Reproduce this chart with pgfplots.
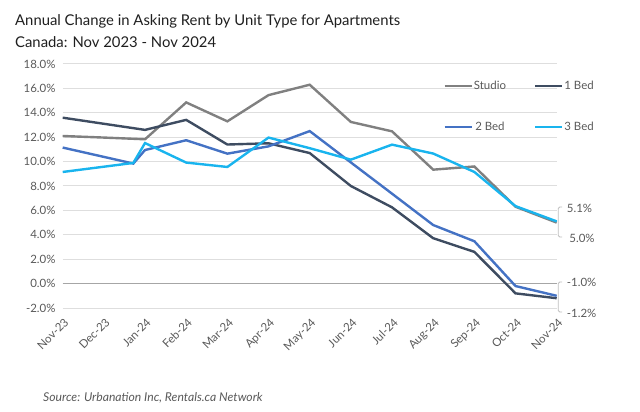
\documentclass[border=0pt]{standalone}
\usepackage{fontspec}
\setmainfont{Lato}
\usepackage{pgfplots}
\pgfplotsset{compat=1.18}

\definecolor{studio}{HTML}{808080}
\definecolor{onebed}{HTML}{3E4C61}
\definecolor{twobed}{HTML}{4472C4}
\definecolor{threebed}{HTML}{19B4EE}
\definecolor{txt}{HTML}{595959}
\definecolor{gridc}{HTML}{DEDEDE}
\definecolor{zeroc}{HTML}{A6A6A6}
\definecolor{brk}{HTML}{BFBFBF}

\begin{document}
\begin{tikzpicture}
\path[use as bounding box] (0bp,0bp) rectangle (640bp,412bp);
\node[anchor=base west, font=\fontsize{14.9}{18}\selectfont, text=black!88, inner sep=0] at (15bp,386bp) {Annual Change in Asking Rent by Unit Type for Apartments};
\node[anchor=base west, font=\fontsize{14.9}{18}\selectfont, text=black!88, inner sep=0] at (15bp,364bp) {Canada: Nov 2023 - Nov 2024};
\node[anchor=base west, font=\itshape\fontsize{12.2}{14}\selectfont, text=txt, inner sep=0] at (43bp,11bp) {Source: Urbanation Inc, Rentals.ca Network};
\begin{axis}[
  at={(62.7bp,104bp)}, anchor=south west,
  scale only axis, width=494bp, height=244bp,
  xmin=0, xmax=12, ymin=-2, ymax=18,
  clip=false,
  axis line style={draw=none},
  tick style={draw=none},
  xtick={0,...,12},
  xticklabels={Nov-23,Dec-23,Jan-24,Feb-24,Mar-24,Apr-24,May-24,Jun-24,Jul-24,Aug-24,Sep-24,Oct-24,Nov-24},
  xticklabel style={rotate=45, anchor=north east, font=\fontsize{11.5}{13}\selectfont, text=txt, inner sep=1bp, xshift=-5bp, yshift=-6bp},
  ytick={-2,0,...,18},
  yticklabel={\pgfmathprintnumber[fixed,fixed zerofill,precision=1,assume math mode=true]{\tick}\%},
  yticklabel style={font=\fontsize{11.5}{13}\selectfont, text=txt, inner sep=1bp, xshift=-6bp},
  ymajorgrids,
  grid style={draw=gridc, line width=1bp},
  extra y ticks={0},
  extra y tick labels={},
  extra y tick style={grid style={draw=zeroc, line width=1.3bp}},
  every axis plot/.append style={line width=2.4bp, mark=none},
  legend columns=2,
  legend image code/.code={\draw[#1] (0bp,0bp) -- (27bp,0bp);},
  legend style={at={(0.7704,0.9344)}, anchor=north west, draw=none, fill=none,
    inner sep=0pt, font=\fontsize{11.5}{13}\selectfont, text=txt,
    row sep=29bp, nodes={inner sep=1bp},
    /tikz/every even column/.append style={column sep=27bp}},
]
\addplot[studio] coordinates {(0,12.1)(1,11.97)(2,11.83)(3,14.85)(4,13.3)(5,15.45)(6,16.3)(7,13.25)(8,12.48)(9,9.34)(10,9.6)(11,6.3)(12,5.0)};
\addlegendentry{Studio}
\addplot[onebed] coordinates {(0,13.6)(1,13.1)(2,12.6)(3,13.42)(4,11.4)(5,11.5)(6,10.7)(7,8.0)(8,6.25)(9,3.72)(10,2.6)(11,-0.8)(12,-1.2)};
\addlegendentry{1 Bed}
\addplot[twobed] coordinates {(0,11.15)(1.715,9.84)(2,10.95)(3,11.75)(4,10.65)(5,11.25)(6,12.5)(7,9.93)(8,7.37)(9,4.8)(10,3.47)(11,-0.2)(12,-1.0)};
\addlegendentry{2 Bed}
\addplot[threebed] coordinates {(0,9.15)(1.715,9.89)(2,11.52)(3,9.92)(4,9.56)(5,11.97)(6,11.1)(7,10.16)(8,11.39)(9,10.66)(10,9.15)(11,6.35)(12,5.1)};
\addlegendentry{3 Bed}
% callout brackets
\draw[brk, line width=0.9bp, rounded corners=1.5bp] ([xshift=5.5bp]axis cs:12,6.28) -- ([xshift=1.5bp]axis cs:12,6.28) -- ([xshift=1.5bp]axis cs:12,3.82) -- ([xshift=5.5bp]axis cs:12,3.82);
\draw[brk, line width=0.9bp, rounded corners=1.5bp] ([xshift=5.5bp]axis cs:12,0.13) -- ([xshift=1.5bp]axis cs:12,0.13) -- ([xshift=1.5bp]axis cs:12,-2.33) -- ([xshift=5.5bp]axis cs:12,-2.33);
\node[anchor=west, font=\fontsize{11.5}{13}\selectfont, text=txt, inner sep=0] at ([xshift=10bp]axis cs:12,6.17) {5.1\%};
\node[anchor=west, font=\fontsize{11.5}{13}\selectfont, text=txt, inner sep=0] at ([xshift=12.5bp]axis cs:12,3.71) {5.0\%};
\node[anchor=west, font=\fontsize{11.5}{13}\selectfont, text=txt, inner sep=0] at ([xshift=10bp]axis cs:12,0.13) {-1.0\%};
\node[anchor=west, font=\fontsize{11.5}{13}\selectfont, text=txt, inner sep=0] at ([xshift=10bp]axis cs:12,-2.43) {-1.2\%};
\end{axis}
\end{tikzpicture}
\end{document}
